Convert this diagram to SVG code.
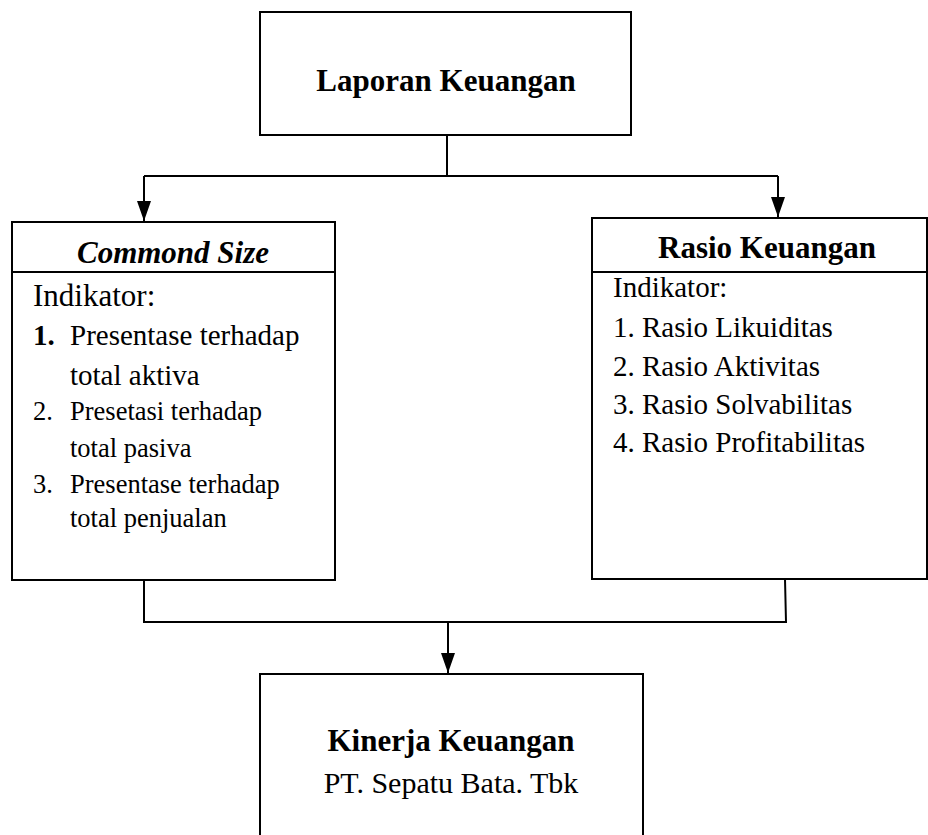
<svg xmlns="http://www.w3.org/2000/svg" width="928" height="835" viewBox="0 0 928 835">
<style>
.box{fill:#fff;stroke:#000;stroke-width:2}
.ln{fill:none;stroke:#000;stroke-width:2}
text{font-family:"Liberation Serif","Times New Roman",serif;fill:#000}
.t{font-weight:bold;font-size:31px;text-anchor:middle}
.r29{font-size:29px}
.r26{font-size:26.5px}
</style>
<defs>
<marker id="ah" markerWidth="20" markerHeight="14" refX="20" refY="7" orient="auto" markerUnits="userSpaceOnUse" viewBox="0 0 20 14">
<path d="M0,0 L20,7 L0,14 Z" fill="#000"/>
</marker>
</defs>
<g id="connectors">
<path class="ln" d="M447,135 V176 M144,176 H778"/>
<path class="ln" d="M144,176 V221" marker-end="url(#ah)"/>
<path class="ln" d="M778,176 V217" marker-end="url(#ah)"/>
<path class="ln" d="M144,580 V622 H786 L785,579"/>
<path class="ln" d="M448,622 V673" marker-end="url(#ah)"/>
</g>
<g id="laporan">
<rect class="box" x="260" y="12" width="371" height="123"/>
<text class="t" x="446" y="91">Laporan Keuangan</text>
</g>
<g id="commond">
<rect class="box" x="12" y="222" width="323" height="358"/>
<line class="ln" x1="12" y1="272" x2="335" y2="272"/>
<text class="t" x="173" y="263" font-style="italic">Commond Size</text>
<text x="33" y="306" style="font-size:31px">Indikator:</text>
<text x="33" y="345" class="r29" font-weight="bold">1.</text>
<text x="70" y="345" class="r29">Presentase terhadap</text>
<text x="70" y="385" class="r29">total aktiva</text>
<text x="33" y="420" class="r26">2.</text>
<text x="70" y="420" class="r26">Presetasi terhadap</text>
<text x="70" y="457" class="r26">total pasiva</text>
<text x="33" y="493" class="r26">3.</text>
<text x="70" y="493" class="r26">Presentase terhadap</text>
<text x="70" y="527" class="r26">total penjualan</text>
</g>
<g id="rasio">
<rect class="box" x="592" y="218" width="335" height="361"/>
<line class="ln" x1="592" y1="272" x2="927" y2="272"/>
<text class="t" x="767" y="258">Rasio Keuangan</text>
<text x="613" y="297" class="r29">Indikator:</text>
<text x="613" y="337" class="r29">1. Rasio Likuiditas</text>
<text x="613" y="376" class="r29">2. Rasio Aktivitas</text>
<text x="613" y="414" class="r29">3. Rasio Solvabilitas</text>
<text x="613" y="452" class="r29">4. Rasio Profitabilitas</text>
</g>
<g id="kinerja">
<rect class="box" x="260" y="674" width="383" height="170"/>
<text class="t" x="451" y="751">Kinerja Keuangan</text>
<text x="451" y="793" style="font-size:30px;text-anchor:middle">PT. Sepatu Bata. Tbk</text>
</g>
</svg>
